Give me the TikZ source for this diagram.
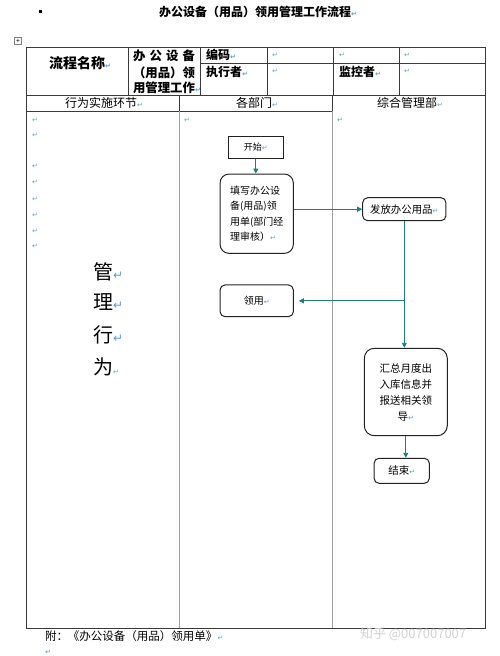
\documentclass[tikz,border=0pt]{standalone}
\usepackage{fontspec}
\setmainfont{Noto Sans CJK SC}
\newfontfamily\symfont{DejaVu Sans}
\usetikzlibrary{arrows.meta}
\definecolor{retblue}{HTML}{5B9BD5}
\definecolor{flowteal}{HTML}{1E7F7A}
\definecolor{tableline}{HTML}{3A3A3A}
\definecolor{laneline}{HTML}{A0A0A0}
\definecolor{boxline}{HTML}{222222}
\newcommand\rmk{{\symfont\fontsize{7}{7}\selectfont\color{retblue}↵}}
\newcommand\bigrmk{{\symfont\fontsize{12}{12}\selectfont\color{retblue}↵}}
\tikzset{
  tab/.style={draw=tableline, line width=1pt},
  lane/.style={draw=laneline, line width=0.8pt},
  txt/.style={inner sep=0pt, outer sep=0pt},
  flowbox/.style={draw=boxline, line width=1pt, rounded corners=5pt, inner sep=0pt, align=center},
  plainbox/.style={draw=boxline, line width=1pt, inner sep=0pt, align=center},
  arr/.style={draw=flowteal, line width=0.9pt, -{Triangle[length=5pt,width=5pt]}},
  conn/.style={draw=flowteal, line width=0.9pt},
}
\begin{document}
\begin{tikzpicture}[x=1pt,y=-1pt]
\useasboundingbox (0,0) rectangle (500,656);
% bullet and title
\node[txt, fill=black, minimum size=3pt] (bullet) at (40,11) {};
\node[txt, font=\bfseries\fontsize{12}{12}\selectfont] (title) at (258,12) {办公设备（用品）领用管理工作流程\rmk};
% table handle
\node[txt, draw=gray, minimum size=7pt, font=\fontsize{7}{7}\selectfont] (handle) at (18,41) {+};
% table grid
\draw[tab] (26,47) rectangle (485,628);
\draw[tab] (200,63) -- (485,63);
\draw[tab] (26,95) -- (485,95);
\draw[tab] (26,111) -- (332,111);
\foreach \x in {128,200,267,333,399.5} \draw[tab] (\x,47) -- (\x,95);
\draw[tab] (179,95) -- (179,111);
\draw[tab] (332,95) -- (332,111);
\draw[lane] (179,111) -- (179,628);
\draw[lane] (332,111) -- (332,628);
% header texts
\node[txt, font=\bfseries\fontsize{14}{14}\selectfont] (pname) at (80,63) {流程名称\rmk};
\node[txt, anchor=west, font=\bfseries\fontsize{12.4}{12.4}\selectfont] (pn1) at (133,56) {\makebox[62pt]{办\hfill 公\hfill 设\hfill 备}};
\node[txt, anchor=west, font=\bfseries\fontsize{12.4}{12.4}\selectfont] (pn2) at (133,72.5) {（用品）领};
\node[txt, anchor=west, font=\bfseries\fontsize{12.4}{12.4}\selectfont] (pn3) at (133,88) {用管理工作\rmk};
\node[txt, anchor=west, font=\bfseries\fontsize{12}{12}\selectfont] (code) at (206,55) {编码\rmk};
\node[txt, anchor=west, font=\bfseries\fontsize{12}{12}\selectfont] (exec) at (206,72) {执行者\rmk};
\node[txt, anchor=west, font=\bfseries\fontsize{12}{12}\selectfont] (mon) at (339,72) {监控者\rmk};
\node[txt, anchor=west] (r1) at (272,55) {\rmk};
\node[txt, anchor=west] (r2) at (339,55) {\rmk};
\node[txt, anchor=west] (r3) at (404,55) {\rmk};
\node[txt, anchor=west] (r4) at (272,71) {\rmk};
\node[txt, anchor=west] (r5) at (404,71) {\rmk};
% lane headers
\node[txt, font=\fontsize{12}{12}\selectfont] (lh1) at (104,103) {行为实施环节\rmk};
\node[txt, font=\fontsize{12}{12}\selectfont] (lh2) at (257,103) {各部门\rmk};
\node[txt, font=\fontsize{12}{12}\selectfont] (lh3) at (410,103) {综合管理部\rmk};
% lane paragraph marks
\foreach \y [count=\i] in {120,135,166.7,182.7,199,215,231,246.7}
  \node[txt, anchor=west] (lm\i) at (32,\y) {\rmk};
\node[txt, anchor=west] (mm) at (184,120) {\rmk};
\node[txt, anchor=west] (rm) at (337,120) {\rmk};
% management behaviour
\node[txt, anchor=west, font=\fontsize{20}{20}\selectfont] (g1) at (93,271.7) {管\bigrmk};
\node[txt, anchor=west, font=\fontsize{20}{20}\selectfont] (g2) at (93,302.5) {理\bigrmk};
\node[txt, anchor=west, font=\fontsize{20}{20}\selectfont] (g3) at (93,335) {行\bigrmk};
\node[txt, anchor=west, font=\fontsize{20}{20}\selectfont] (g4) at (93,367) {为\rmk};
% flow nodes
\node[plainbox, minimum width=55pt, minimum height=22.3pt, font=\fontsize{9}{9}\selectfont] (start) at (255.8,147.2) {开始\rmk};
\node[flowbox, rounded corners=9pt, minimum width=73.3pt, minimum height=79.3pt, align=left, font=\fontsize{10}{15.5}\selectfont] (fill) at (256.7,213.7) {填写办公设\\备(用品)领\\用单(部门经\\理审核）\rmk};
\node[flowbox, minimum width=83.3pt, minimum height=23pt, font=\fontsize{10.4}{10.4}\selectfont] (issue) at (404.3,209.2) {发放办公用品\rmk};
\node[flowbox, minimum width=73.3pt, minimum height=31.7pt, font=\fontsize{10}{10}\selectfont] (receive) at (256.7,300.8) {领用\rmk};
\node[flowbox, rounded corners=10pt, minimum width=83pt, minimum height=87.4pt, font=\fontsize{10.5}{16}\selectfont] (summary) at (405.8,392) {汇总月度出\\入库信息并\\报送相关领\\导\rmk};
\node[flowbox, minimum width=55.3pt, minimum height=25pt, font=\fontsize{10.5}{10.5}\selectfont] (end) at (401.7,470.8) {结束\rmk};
% connectors
\draw[arr] (start.south) -- (start.south |- fill.north);
\draw[arr] (fill.east |- issue.west) -- (issue.west);
\draw[arr] (issue.south) -- (issue.south |- summary.north);
\draw[arr, shorten >=5pt] (issue.south |- receive.east) -- (receive.east);
\draw[arr] (summary.south) -- (summary.south |- end.north);
% footer
\node[txt, anchor=west, font=\fontsize{11.5}{11.5}\selectfont] (note) at (45,636) {附：《办公设备（用品）领用单》\rmk};
\node[txt, anchor=west] (lastmark) at (45,652) {\rmk};
\node[txt, anchor=west, text=black!18, font=\fontsize{13}{13}\selectfont] (wm) at (360,634) {知乎 @007007007};
\end{tikzpicture}
\end{document}
